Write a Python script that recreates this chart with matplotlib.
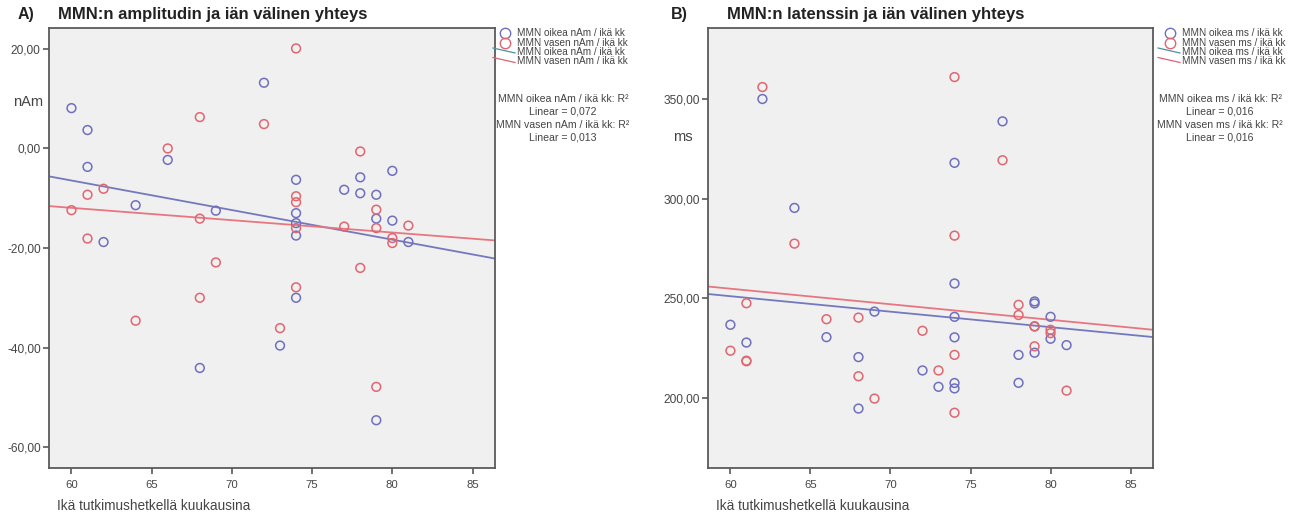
import numpy as np
import matplotlib
matplotlib.use("Agg")
import matplotlib.pyplot as plt
from matplotlib.lines import Line2D

plt.rcParams['font.family'] = ['Liberation Sans', 'DejaVu Sans']

# ---- data: age in months vs. MMN amplitude / latency ----
amp_right_age = [60, 61, 61, 62, 64, 66, 68, 69, 72, 73, 74, 74, 74, 74, 74,
                 77, 78, 78, 79, 79, 79, 80, 80, 81]
amp_right_val = [8.1, 3.7, -3.7, -18.8, -11.4, -2.3, -44.1, -12.5, 13.2, -39.6,
                 -6.3, -13.0, -15.0, -17.5, -30.0, -8.3, -5.8, -9.0, -9.3,
                 -14.1, -54.6, -4.5, -14.5, -18.8]
amp_left_age = [60, 61, 61, 62, 64, 66, 68, 68, 68, 69, 72, 73, 74, 74, 74, 74,
                74, 77, 78, 78, 79, 79, 79, 80, 80, 81]
amp_left_val = [-12.4, -9.3, -18.1, -8.1, -34.6, 0.0, 6.3, -14.1, -30.0, -22.9,
                4.9, -36.1, 20.1, -9.6, -10.8, -16.0, -27.9, -15.7, -0.6, -24.0,
                -12.3, -16.0, -47.9, -18.0, -19.0, -15.5]

lat_right_age = [60, 61, 62, 64, 66, 68, 68, 69, 72, 73, 74, 74, 74, 74, 74, 74,
                 77, 78, 78, 79, 79, 79, 79, 80, 80, 81]
lat_right_val = [236.8, 227.9, 350.0, 295.4, 230.6, 220.6, 194.8, 243.4, 213.9,
                 205.7, 318.0, 257.5, 240.8, 230.5, 207.6, 204.9, 338.8, 221.7,
                 207.7, 248.5, 247.5, 236.0, 222.8, 240.8, 229.8, 226.6]
lat_left_age = [60, 61, 61, 61, 62, 64, 66, 68, 68, 69, 72, 73, 74, 74, 74, 74,
                77, 78, 78, 79, 79, 80, 80, 81]
lat_left_val = [223.8, 247.6, 218.8, 218.5, 356.0, 277.5, 239.6, 240.4, 211.0,
                199.8, 233.8, 213.9, 361.0, 281.5, 221.7, 192.7, 319.3, 246.8,
                241.7, 236.0, 226.0, 234.3, 232.6, 203.8]

# linear fit lines (intercept, slope) as reported with the R² values
amp_fit_right = (29.2, -0.594)
amp_fit_left = (2.95, -0.248)
lat_fit_right = (297.7, -0.776)
lat_fit_left = (301.7, -0.780)

x_ticks = [60, 65, 70, 75, 80, 85]
amp_ticks = [-60, -40, -20, 0, 20]
lat_ticks = [200, 250, 300, 350]

amp_r2 = ["0,072", "0,013"]
lat_r2 = ["0,016", "0,016"]

BLUE = '#6e70bf'
RED = '#e0666f'
BLUE_LINE = '#7479bd'
RED_LINE = '#e87680'
LEG_BLUE_LINE = '#4d8fa6'
LEG_RED_LINE = '#e0607a'
BG = '#f0f0f0'
TXT = '#454545'

W, H = 1300, 516
fig = plt.figure(figsize=(W / 100, H / 100), dpi=100)


def fx(x):
    return x / W


def fy(y):
    return 1 - y / H


def comma(v):
    return f"{v:.2f}".replace('.', ',')


def panel(x0, x1, letter, title, unit, unit_pos, yr, xv, yv, fits, yticks,
          names, r2, lx, cx):
    top, bottom = 28, 468
    ax = fig.add_axes([fx(x0), fy(bottom), fx(x1 - x0), (bottom - top) / H])
    ax.set_facecolor(BG)
    for s in ax.spines.values():
        s.set_color('#5a5a5a')
        s.set_linewidth(1.3)
    xlim = (58.6, 86.4)
    ax.set_xlim(*xlim)
    ax.set_ylim(*yr)

    ax.scatter(xv[0], yv[0], s=40, facecolors='none', edgecolors=BLUE,
               linewidths=1.1, zorder=3)
    ax.scatter(xv[1], yv[1], s=40, facecolors='none', edgecolors=RED,
               linewidths=1.1, zorder=3)

    xs = np.array(xlim)
    for (b, k), col in ((fits[0], BLUE_LINE), (fits[1], RED_LINE)):
        ax.plot(xs, b + k * xs, color=col, lw=1.3, zorder=2)

    ax.set_xticks(x_ticks)
    ax.set_xticklabels([str(t) for t in x_ticks])
    ax.set_yticks(yticks)
    ax.set_yticklabels([comma(t) for t in yticks])
    ax.tick_params(direction='out', length=4, width=1.1, color='#4a4a4a',
                   labelcolor=TXT, pad=2)
    ax.tick_params(axis='y', labelsize=8.6)
    ax.tick_params(axis='x', labelsize=8.2, pad=5)

    # titles and axis captions
    fig.text(fx(letter[1]), fy(14), letter[0], fontsize=11.5,
             fontweight='bold', color='#222', va='center', ha='left')
    fig.text(fx(letter[2]), fy(14), title, fontsize=12, fontweight='bold',
             color='#222', va='center', ha='left')
    fig.text(fx(unit_pos[0]), fy(unit_pos[1]), unit, fontsize=10.5,
             color=TXT, va='center', ha='left')
    fig.text(fx(x0 + 8), fy(506), "Ikä tutkimushetkellä kuukausina",
             fontsize=9.8, color=TXT, va='center', ha='left')

    # legend
    rows = [33, 42.5, 52, 61.5]
    for y, col in ((rows[0], BLUE), (rows[1], RED)):
        fig.add_artist(Line2D([fx(lx + 10)], [fy(y)], marker='o', ms=7.5,
                              mfc='none', mec=col, mew=1.0, ls='none',
                              transform=fig.transFigure))
    for y, col in ((rows[2], LEG_BLUE_LINE), (rows[3], LEG_RED_LINE)):
        fig.add_artist(Line2D([fx(lx - 2), fx(lx + 20)], [fy(y - 4), fy(y + 1)],
                              color=col, lw=0.9, transform=fig.transFigure))
    labels = [names[0], names[1], names[0], names[1]]
    for y, lab in zip(rows, labels):
        fig.text(fx(lx + 22), fy(y), lab, fontsize=7.2, color='#444',
                 va='center', ha='left')
    r2_lines = [f"{names[0]}: R²", f"Linear = {r2[0]}",
                f"{names[1]}: R²", f"Linear = {r2[1]}"]
    for i, t in enumerate(r2_lines):
        fig.text(fx(cx), fy(99 + i * 13), t, fontsize=7.6, color='#444',
                 va='center', ha='center')
    return ax


panel(49, 495, ("A)", 18, 58), "MMN:n amplitudin ja iän välinen yhteys",
      "nAm", (13, 102), (-64.2, 24.2),
      (amp_right_age, amp_left_age), (amp_right_val, amp_left_val),
      (amp_fit_right, amp_fit_left), amp_ticks,
      ("MMN oikea nAm / ikä kk", "MMN vasen nAm / ikä kk"), amp_r2, 495, 563)

panel(708, 1153, ("B)", 671, 727), "MMN:n latenssin ja iän välinen yhteys",
      "ms", (673, 137), (165.0, 385.6),
      (lat_right_age, lat_left_age), (lat_right_val, lat_left_val),
      (lat_fit_right, lat_fit_left), lat_ticks,
      ("MMN oikea ms / ikä kk", "MMN vasen ms / ikä kk"), lat_r2, 1160, 1220)

fig.savefig("out.png", dpi=100, facecolor='white')
